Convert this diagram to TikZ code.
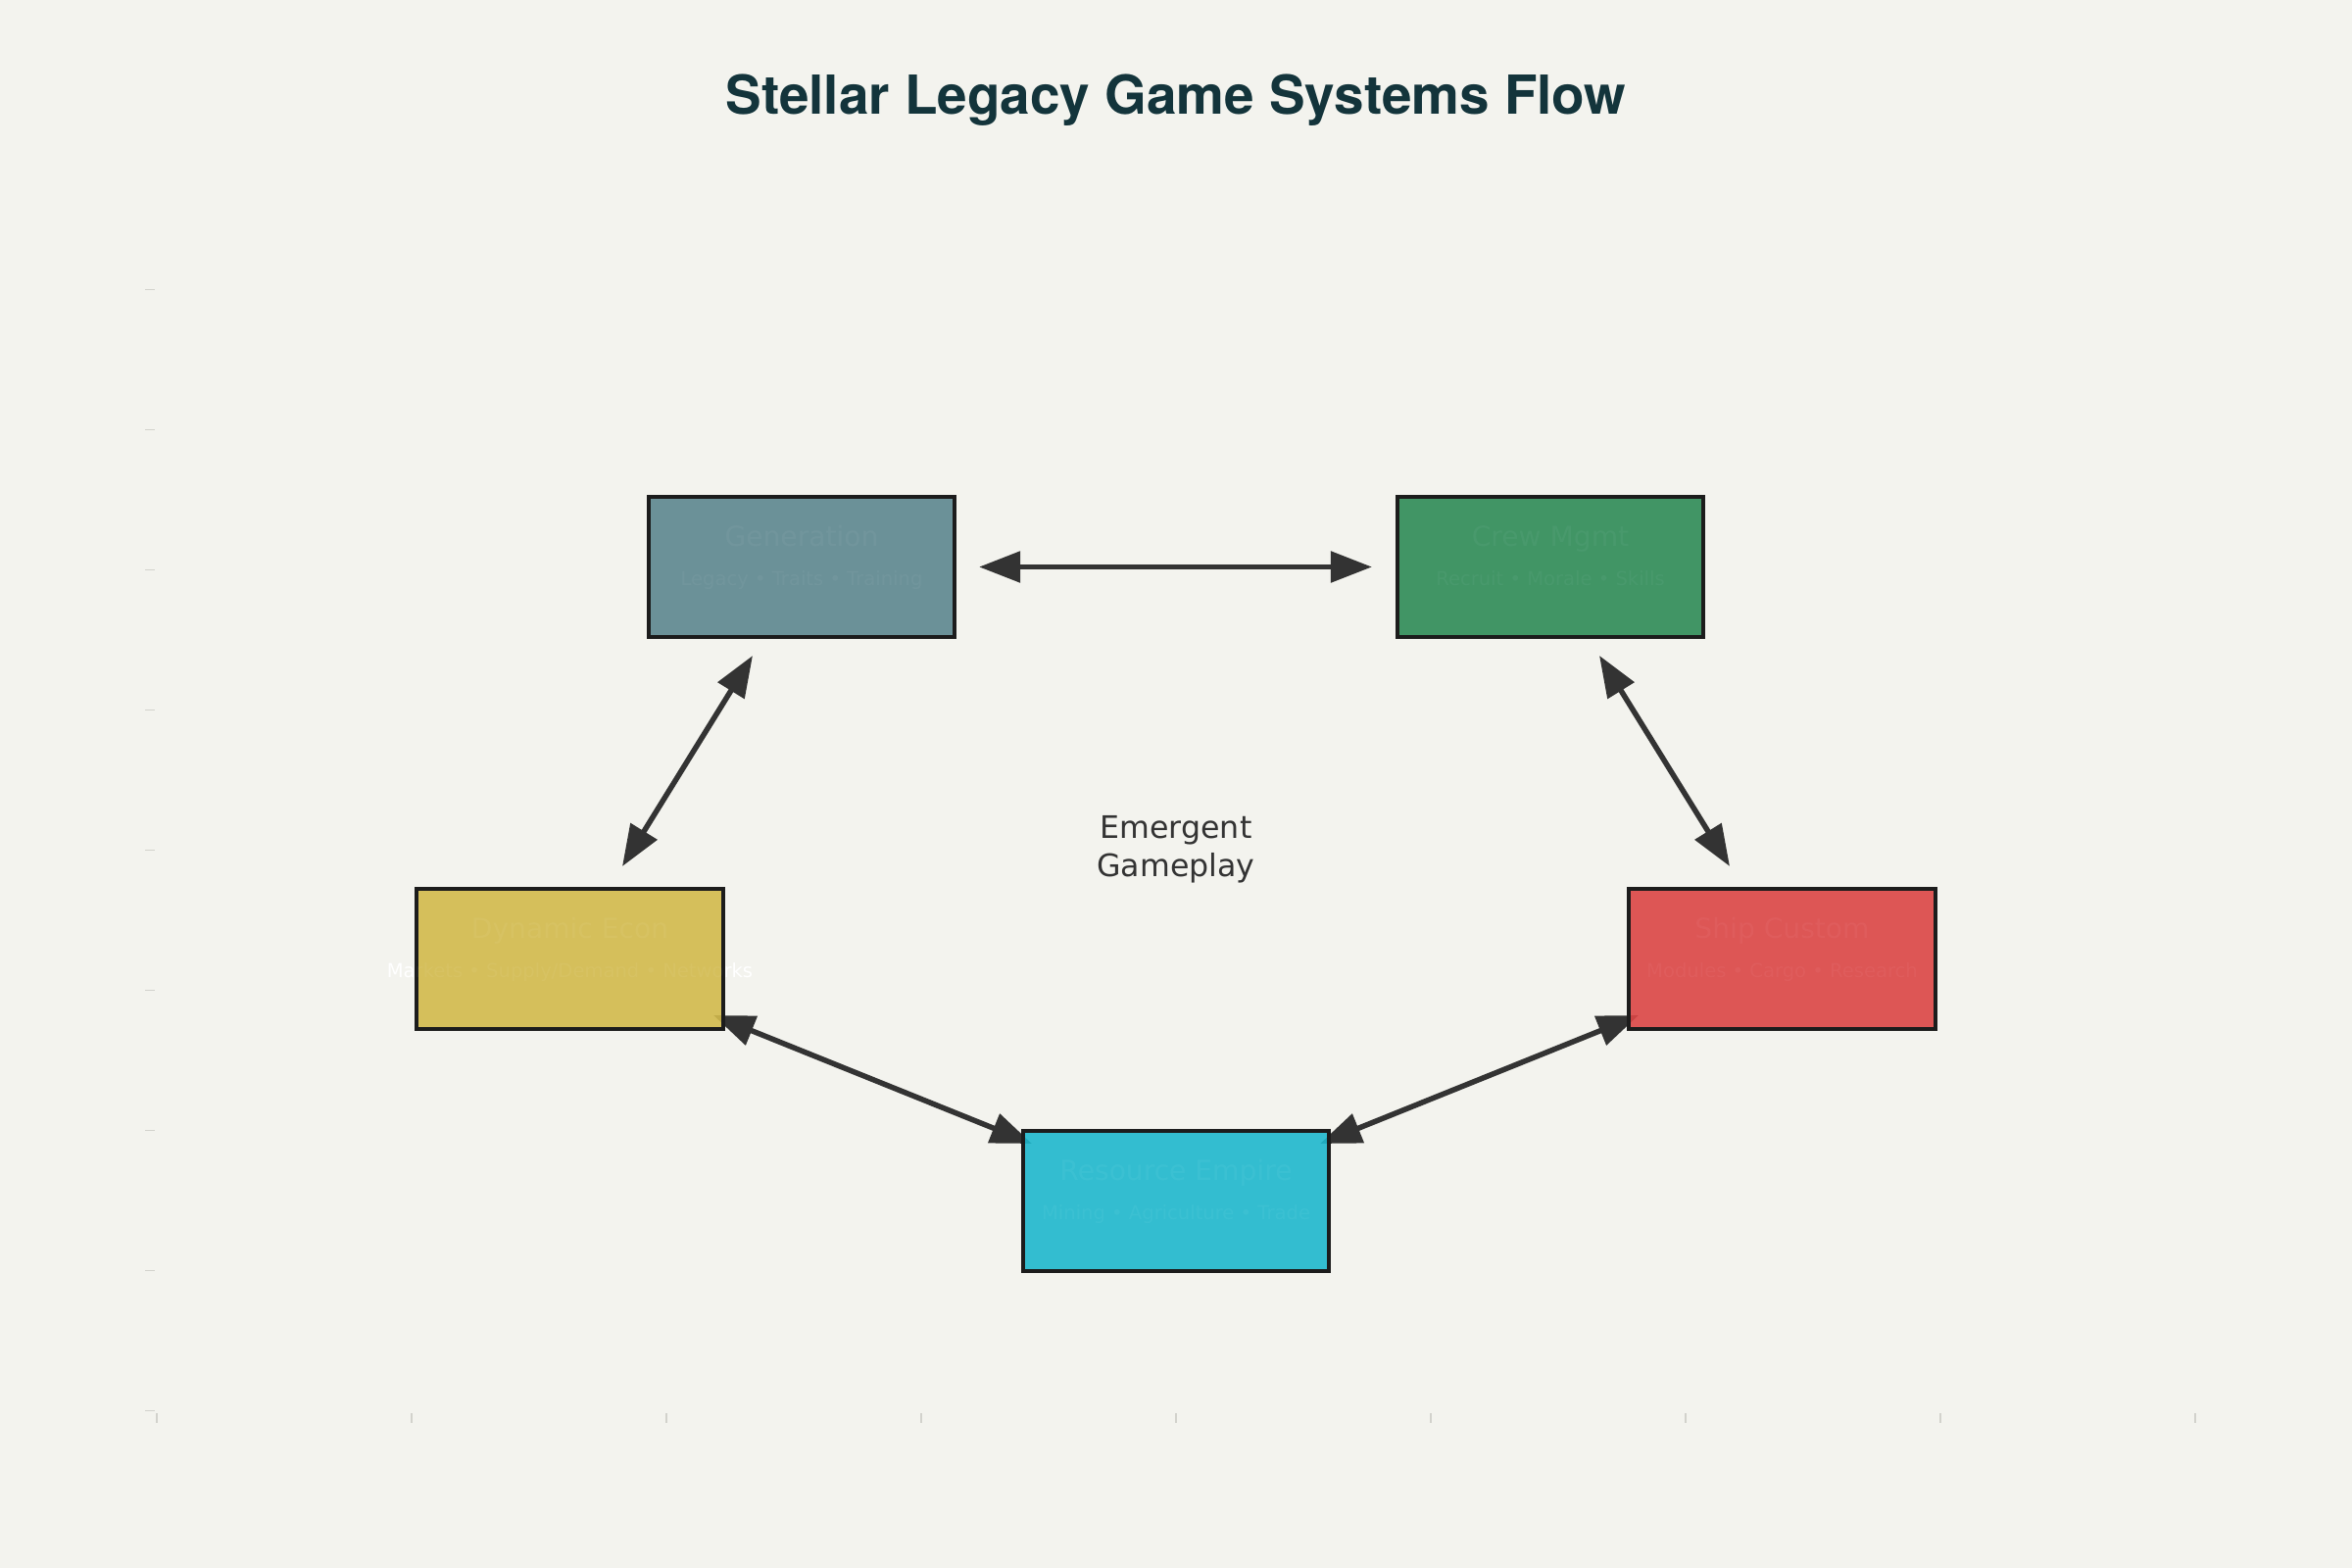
\documentclass[tikz,border=0pt]{standalone}
\usepackage{fontspec}
\setmainfont{DejaVu Sans}
\newfontfamily\titlefont{TeX Gyre Heros}
\usetikzlibrary{arrows.meta}
\definecolor{bgc}{HTML}{F3F3EE}
\definecolor{titlec}{HTML}{13343B}
\definecolor{tickc}{HTML}{D2D2CC}
\definecolor{arrowc}{HTML}{333333}
\definecolor{borderc}{HTML}{1C1C1C}
\definecolor{cteal}{HTML}{5D878F}
\definecolor{cgreen}{HTML}{2E8B57}
\definecolor{cyellow}{HTML}{D2BA4C}
\definecolor{cred}{HTML}{DB4545}
\definecolor{ccyan}{HTML}{1FB8CD}
\pgfdeclarelayer{bgl}
\pgfdeclarelayer{back}
\pgfdeclarelayer{front}
\pgfsetlayers{bgl,back,main,front}
\tikzset{
  sysbox/.style={draw=borderc, line width=0.04cm, fill opacity=0.9, draw opacity=1,
    minimum width=3.12cm, minimum height=1.43cm, inner sep=0pt, outer sep=0pt},
  btitle/.style={anchor=base, text=white, inner sep=0pt, font=\fontsize{8pt}{9pt}\selectfont},
  bsub/.style={anchor=base, text=white, inner sep=0pt, font=\fontsize{5.56pt}{6.5pt}\selectfont},
  btitleov/.style={btitle, text opacity=0.035},
  bsubov/.style={bsub, text opacity=0.035},
  conn/.style={draw=arrowc, line width=0.055cm,
    {Triangle[length=0.42cm,width=0.31cm]}-{Triangle[length=0.42cm,width=0.31cm]}},
  tickmark/.style={draw=tickc, line width=0.012cm}
}
\begin{document}
\begin{tikzpicture}[x=0.01cm,y=-0.01cm]
\begin{pgfonlayer}{bgl}
\path[use as bounding box, fill=bgc] (0,0) rectangle (2400,1600);
\end{pgfonlayer}

% boxes
\node[sysbox, fill=cteal] (gen) at (818,578.5) {};
\node[sysbox, fill=cgreen] (crew) at (1582,578.5) {};
\node[sysbox, fill=cyellow] (econ) at (581.5,978.3) {};
\node[sysbox, fill=cred] (ship) at (1818.5,978.3) {};
\node[sysbox, fill=ccyan] (res) at (1200,1225.3) {};

\begin{pgfonlayer}{back}
% axis ticks
\foreach \i in {0,...,8} {
  \draw[tickmark] ({160+260*\i},1442) -- ({160+260*\i},1452);
  \draw[tickmark] (148,{295.8+143*\i}) -- (158,{295.8+143*\i});
}

% title
\node[anchor=base, text=titlec, inner sep=0pt, font=\titlefont\bfseries\fontsize{15.6pt}{18pt}\selectfont] (title) at (1200,117) {Stellar Legacy Game Systems Flow};

% centre label
\node[anchor=base, text=arrowc, inner sep=0pt, font=\fontsize{9pt}{11pt}\selectfont] (em1) at (1200,855) {Emergent};
\node[anchor=base, text=arrowc, inner sep=0pt, font=\fontsize{9pt}{11pt}\selectfont] (em2) at (1200,894.5) {Gameplay};

% texts under boxes
\node[btitle] (gent) at (818,557.5) {Generation};
\node[bsub] (gens) at (818,597.5) {Legacy • Traits • Training};
\node[btitle] (crewt) at (1582,557.5) {Crew Mgmt};
\node[bsub] (crews) at (1582,597.5) {Recruit • Morale • Skills};
\node[btitle] (econt) at (581.5,957.3) {Dynamic Econ};
\node[bsub] (econs) at (581.5,997.3) {Markets • Supply/Demand • Networks};
\node[btitle] (shipt) at (1818.5,957.3) {Ship Custom};
\node[bsub] (ships) at (1818.5,997.3) {Modules • Cargo • Research};
\node[btitle] (rest) at (1200,1204.3) {Resource Empire};
\node[bsub] (ress) at (1200,1244.3) {Mining • Agriculture • Trade};

% arrow end coordinates
\coordinate (a1) at (768,669);
\coordinate (a2) at (635,884);
\coordinate (b1) at (1632,669);
\coordinate (b2) at (1765,884);
\coordinate (c1) at (728,1036);
\coordinate (c2) at (1053,1167);
\coordinate (d1) at (1672,1036);
\coordinate (d2) at (1347,1167);

% connectors
\draw[conn, shorten <=0.25cm, shorten >=0.26cm] (gen.east) -- (crew.west);
\draw[conn] (a1) -- (a2);
\draw[conn] (b1) -- (b2);
\draw[conn] (c1) -- (c2);
\draw[conn] (d1) -- (d2);
\end{pgfonlayer}

\begin{pgfonlayer}{front}
% faint text overlay on boxes
\node[btitleov] (gento) at (818,557.5) {Generation};
\node[bsubov] (genso) at (818,597.5) {Legacy • Traits • Training};
\node[btitleov] (crewto) at (1582,557.5) {Crew Mgmt};
\node[bsubov] (crewso) at (1582,597.5) {Recruit • Morale • Skills};
\node[btitleov] (econto) at (581.5,957.3) {Dynamic Econ};
\node[bsubov] (econso) at (581.5,997.3) {Markets • Supply/Demand • Networks};
\node[btitleov] (shipto) at (1818.5,957.3) {Ship Custom};
\node[bsubov] (shipso) at (1818.5,997.3) {Modules • Cargo • Research};
\node[btitleov] (resto) at (1200,1204.3) {Resource Empire};
\node[bsubov] (resso) at (1200,1244.3) {Mining • Agriculture • Trade};
\end{pgfonlayer}
\end{tikzpicture}
\end{document}
